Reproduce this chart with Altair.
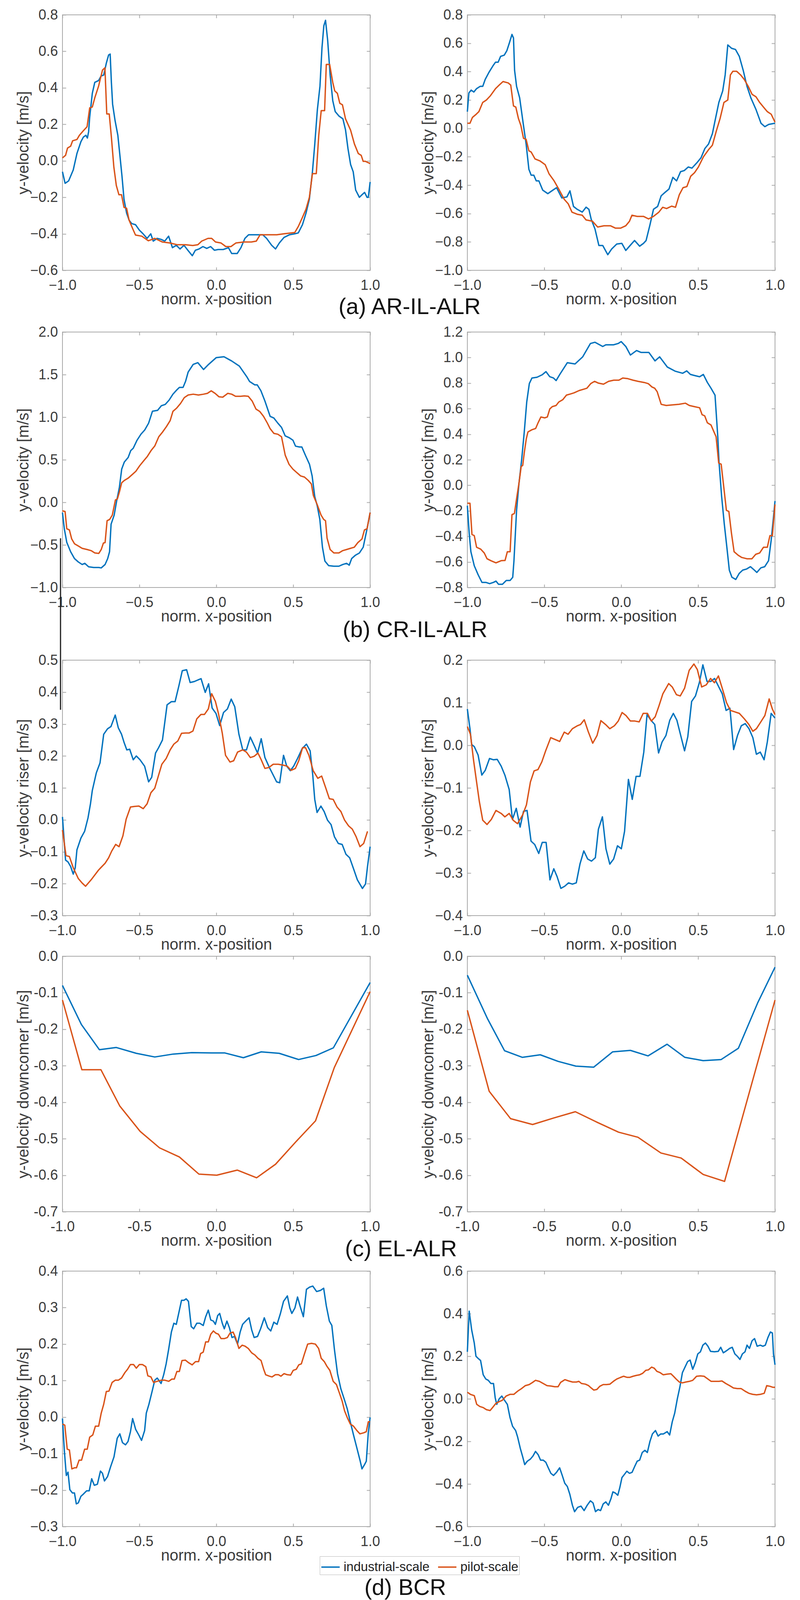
import altair as alt
import pandas as pd

SERIES = ["industrial-scale", "pilot-scale"]
COLORS = ["#0072BD", "#D95319"]
X_TICKS = [-1.0, -0.5, 0.0, 0.5, 1.0]
CAPTIONS = ["(a) AR-IL-ALR", "(b) CR-IL-ALR", "(c) EL-ALR", "(d) BCR"]

# (a) AR-IL-ALR
A_L_IND = [(-1.0, -0.06), (-0.983, -0.123), (-0.96, -0.11), (-0.93, -0.05), (-0.906, 0.04), (-0.88, 0.105),
           (-0.864, 0.13), (-0.848, 0.14), (-0.838, 0.125), (-0.83, 0.16), (-0.823, 0.24), (-0.806, 0.37),
           (-0.79, 0.43), (-0.765, 0.44), (-0.749, 0.465), (-0.732, 0.47), (-0.715, 0.535), (-0.7, 0.58),
           (-0.69, 0.585), (-0.682, 0.43), (-0.674, 0.31), (-0.658, 0.22), (-0.64, 0.14), (-0.625, 0.016),
           (-0.613, -0.085), (-0.6, -0.21), (-0.583, -0.287), (-0.567, -0.325), (-0.55, -0.344), (-0.525, -0.35),
           (-0.5, -0.38), (-0.476, -0.4), (-0.45, -0.425), (-0.426, -0.4), (-0.41, -0.44), (-0.385, -0.425),
           (-0.36, -0.43), (-0.335, -0.44), (-0.31, -0.413), (-0.285, -0.476), (-0.26, -0.463), (-0.236, -0.483),
           (-0.21, -0.463), (-0.185, -0.49), (-0.156, -0.52), (-0.136, -0.49), (-0.112, -0.483), (-0.087, -0.47),
           (-0.062, -0.48), (-0.037, -0.47), (-0.012, -0.49), (0.012, -0.486), (0.045, -0.486), (0.079, -0.476),
           (0.1, -0.508), (0.136, -0.508), (0.16, -0.476), (0.186, -0.425), (0.21, -0.405), (0.26, -0.405),
           (0.302, -0.405), (0.327, -0.425), (0.36, -0.463), (0.385, -0.483), (0.41, -0.45), (0.44, -0.42),
           (0.476, -0.405), (0.51, -0.4), (0.533, -0.395), (0.56, -0.35), (0.583, -0.287), (0.605, -0.21),
           (0.625, -0.06), (0.64, 0.09), (0.657, 0.28), (0.674, 0.41), (0.687, 0.62), (0.699, 0.74), (0.71, 0.77),
           (0.724, 0.66), (0.74, 0.47), (0.757, 0.33), (0.773, 0.27), (0.798, 0.245), (0.823, 0.23), (0.84, 0.17),
           (0.856, 0.067), (0.873, -0.02), (0.89, -0.06), (0.906, -0.16), (0.93, -0.2), (0.947, -0.186),
           (0.964, -0.173), (0.98, -0.2), (0.988, -0.2), (1.0, -0.116)]
A_L_PIL = [(-1.0, 0.016), (-0.98, 0.03), (-0.967, 0.07), (-0.947, 0.08), (-0.934, 0.11), (-0.906, 0.117),
           (-0.89, 0.14), (-0.864, 0.165), (-0.84, 0.187), (-0.823, 0.29), (-0.806, 0.295), (-0.79, 0.345),
           (-0.765, 0.41), (-0.74, 0.497), (-0.724, 0.51), (-0.712, 0.257), (-0.696, 0.257), (-0.682, 0.13),
           (-0.666, -0.034), (-0.65, -0.135), (-0.633, -0.186), (-0.616, -0.186), (-0.6, -0.255), (-0.583, -0.26),
           (-0.567, -0.325), (-0.542, -0.375), (-0.525, -0.407), (-0.484, -0.413), (-0.442, -0.438), (-0.4, -0.425),
           (-0.35, -0.445), (-0.302, -0.45), (-0.253, -0.46), (-0.2, -0.46), (-0.153, -0.464), (-0.12, -0.46),
           (-0.095, -0.44), (-0.054, -0.425), (-0.03, -0.425), (-0.005, -0.445), (0.03, -0.45), (0.062, -0.47),
           (0.095, -0.47), (0.128, -0.45), (0.178, -0.445), (0.228, -0.445), (0.26, -0.44), (0.285, -0.405),
           (0.327, -0.405), (0.393, -0.405), (0.44, -0.4), (0.51, -0.393), (0.533, -0.36), (0.56, -0.31),
           (0.583, -0.265), (0.605, -0.2), (0.625, -0.07), (0.65, -0.07), (0.666, 0.14), (0.682, 0.275),
           (0.704, 0.275), (0.715, 0.528), (0.737, 0.528), (0.757, 0.43), (0.77, 0.383), (0.787, 0.37),
           (0.803, 0.315), (0.82, 0.307), (0.84, 0.23), (0.873, 0.168), (0.898, 0.092), (0.923, 0.04),
           (0.942, 0.03), (0.955, -0.003), (0.97, -0.003), (1.0, -0.015)]
A_R_IND = [(-1.0, 0.118), (-0.99, 0.25), (-0.975, 0.27), (-0.958, 0.256), (-0.94, 0.28), (-0.917, 0.296),
           (-0.9, 0.296), (-0.884, 0.345), (-0.86, 0.394), (-0.834, 0.44), (-0.817, 0.466), (-0.8, 0.466),
           (-0.784, 0.507), (-0.76, 0.516), (-0.743, 0.548), (-0.726, 0.605), (-0.71, 0.662), (-0.7, 0.637),
           (-0.693, 0.41), (-0.68, 0.296), (-0.66, 0.215), (-0.635, 0.02), (-0.618, -0.11), (-0.6, -0.288),
           (-0.585, -0.33), (-0.568, -0.33), (-0.552, -0.37), (-0.535, -0.37), (-0.51, -0.435), (-0.477, -0.46),
           (-0.444, -0.435), (-0.42, -0.418), (-0.386, -0.49), (-0.353, -0.483), (-0.333, -0.44), (-0.31, -0.55),
           (-0.286, -0.57), (-0.253, -0.59), (-0.228, -0.555), (-0.21, -0.57), (-0.195, -0.64), (-0.17, -0.71),
           (-0.145, -0.825), (-0.12, -0.825), (-0.087, -0.89), (-0.062, -0.85), (-0.029, -0.815), (0.004, -0.81),
           (0.03, -0.86), (0.054, -0.83), (0.087, -0.79), (0.12, -0.83), (0.145, -0.81), (0.162, -0.79),
           (0.187, -0.68), (0.21, -0.57), (0.237, -0.55), (0.26, -0.475), (0.286, -0.45), (0.311, -0.427),
           (0.336, -0.345), (0.36, -0.37), (0.386, -0.305), (0.41, -0.297), (0.436, -0.272), (0.46, -0.28),
           (0.494, -0.24), (0.519, -0.207), (0.544, -0.142), (0.568, -0.11), (0.593, -0.037), (0.61, 0.053),
           (0.635, 0.183), (0.66, 0.264), (0.676, 0.377), (0.693, 0.588), (0.718, 0.564), (0.743, 0.556),
           (0.768, 0.507), (0.793, 0.41), (0.818, 0.296), (0.843, 0.215), (0.876, 0.134), (0.909, 0.036),
           (0.934, 0.012), (0.959, 0.028), (1.0, 0.036)]
A_R_PIL = [(-1.0, 0.036), (-0.983, 0.036), (-0.967, 0.077), (-0.942, 0.1), (-0.925, 0.118), (-0.9, 0.183),
           (-0.876, 0.2), (-0.85, 0.23), (-0.817, 0.28), (-0.793, 0.305), (-0.768, 0.33), (-0.734, 0.32),
           (-0.718, 0.305), (-0.7, 0.158), (-0.685, 0.15), (-0.668, 0.07), (-0.652, 0.02), (-0.635, -0.07),
           (-0.618, -0.077), (-0.6, -0.158), (-0.585, -0.167), (-0.56, -0.215), (-0.527, -0.23), (-0.494, -0.256),
           (-0.469, -0.32), (-0.436, -0.37), (-0.402, -0.435), (-0.37, -0.5), (-0.344, -0.532), (-0.32, -0.59),
           (-0.286, -0.605), (-0.253, -0.612), (-0.228, -0.645), (-0.187, -0.654), (-0.153, -0.695),
           (-0.112, -0.686), (-0.07, -0.686), (-0.037, -0.703), (-0.004, -0.703), (0.03, -0.686), (0.054, -0.654),
           (0.07, -0.612), (0.104, -0.62), (0.145, -0.62), (0.178, -0.638), (0.21, -0.62), (0.245, -0.59),
           (0.27, -0.556), (0.295, -0.565), (0.328, -0.548), (0.353, -0.556), (0.378, -0.467), (0.402, -0.418),
           (0.427, -0.41), (0.452, -0.337), (0.477, -0.312), (0.502, -0.272), (0.535, -0.2), (0.568, -0.15),
           (0.593, -0.118), (0.618, -0.02), (0.643, 0.07), (0.668, 0.183), (0.693, 0.2), (0.71, 0.377),
           (0.726, 0.402), (0.751, 0.402), (0.776, 0.377), (0.8, 0.345), (0.826, 0.296), (0.851, 0.24),
           (0.876, 0.223), (0.9, 0.183), (0.925, 0.15), (0.95, 0.118), (0.975, 0.1), (1.0, 0.044)]

# (b) CR-IL-ALR
B_L_IND = [(-1.0, -0.12), (-0.988, -0.31), (-0.972, -0.47), (-0.947, -0.58), (-0.922, -0.66), (-0.897, -0.7),
           (-0.872, -0.73), (-0.855, -0.716), (-0.83, -0.757), (-0.797, -0.765), (-0.764, -0.765), (-0.748, -0.77),
           (-0.723, -0.73), (-0.706, -0.66), (-0.694, -0.58), (-0.684, -0.257), (-0.664, -0.15), (-0.648, 0.014),
           (-0.63, 0.176), (-0.615, 0.39), (-0.598, 0.473), (-0.573, 0.527), (-0.556, 0.608), (-0.54, 0.635),
           (-0.515, 0.73), (-0.49, 0.8), (-0.465, 0.85), (-0.44, 0.93), (-0.415, 1.07), (-0.382, 1.08),
           (-0.357, 1.135), (-0.332, 1.15), (-0.307, 1.2), (-0.282, 1.27), (-0.257, 1.32), (-0.24, 1.35),
           (-0.216, 1.35), (-0.2, 1.42), (-0.183, 1.53), (-0.15, 1.62), (-0.12, 1.64), (-0.083, 1.56),
           (-0.05, 1.62), (0.0, 1.7), (0.05, 1.71), (0.1, 1.66), (0.15, 1.6), (0.2, 1.47), (0.216, 1.42),
           (0.25, 1.38), (0.266, 1.38), (0.29, 1.31), (0.316, 1.19), (0.35, 1.01), (0.374, 0.99), (0.4, 0.93),
           (0.424, 0.88), (0.448, 0.78), (0.473, 0.76), (0.498, 0.73), (0.515, 0.66), (0.54, 0.65), (0.556, 0.65),
           (0.58, 0.55), (0.606, 0.446), (0.623, 0.31), (0.64, 0.068), (0.656, -0.04), (0.673, -0.2),
           (0.69, -0.527), (0.706, -0.69), (0.73, -0.743), (0.764, -0.75), (0.797, -0.75), (0.822, -0.73),
           (0.847, -0.716), (0.864, -0.738), (0.88, -0.66), (0.905, -0.62), (0.93, -0.595), (0.955, -0.527),
           (0.98, -0.31), (1.0, -0.12)]
B_L_PIL = [(-1.0, -0.1), (-0.983, -0.108), (-0.972, -0.31), (-0.955, -0.324), (-0.94, -0.43), (-0.922, -0.486),
           (-0.897, -0.513), (-0.872, -0.54), (-0.84, -0.554), (-0.814, -0.567), (-0.79, -0.594), (-0.764, -0.6),
           (-0.748, -0.554), (-0.734, -0.478), (-0.723, -0.473), (-0.71, -0.216), (-0.693, -0.2), (-0.676, -0.15),
           (-0.656, 0.027), (-0.643, 0.04), (-0.63, 0.12), (-0.615, 0.23), (-0.598, 0.257), (-0.573, 0.284),
           (-0.548, 0.324), (-0.523, 0.365), (-0.498, 0.43), (-0.473, 0.486), (-0.448, 0.54), (-0.424, 0.608),
           (-0.4, 0.662), (-0.374, 0.77), (-0.35, 0.824), (-0.324, 0.89), (-0.3, 0.96), (-0.282, 1.068),
           (-0.257, 1.108), (-0.233, 1.16), (-0.208, 1.23), (-0.183, 1.26), (-0.15, 1.27), (-0.116, 1.26),
           (-0.083, 1.27), (-0.058, 1.28), (-0.033, 1.31), (-0.008, 1.28), (0.017, 1.24), (0.042, 1.235),
           (0.075, 1.28), (0.1, 1.27), (0.125, 1.245), (0.158, 1.245), (0.183, 1.25), (0.208, 1.245),
           (0.233, 1.19), (0.258, 1.095), (0.282, 1.068), (0.307, 1.01), (0.332, 0.93), (0.35, 0.865),
           (0.374, 0.81), (0.4, 0.8), (0.424, 0.77), (0.448, 0.554), (0.473, 0.446), (0.498, 0.39), (0.523, 0.35),
           (0.548, 0.31), (0.573, 0.297), (0.598, 0.257), (0.618, 0.216), (0.631, 0.08), (0.656, -0.027),
           (0.681, -0.15), (0.698, -0.2), (0.71, -0.216), (0.72, -0.42), (0.74, -0.554), (0.764, -0.594),
           (0.797, -0.594), (0.822, -0.567), (0.847, -0.554), (0.872, -0.54), (0.897, -0.527), (0.92, -0.473),
           (0.947, -0.43), (0.963, -0.324), (0.98, -0.31), (1.0, -0.12)]
B_R_IND = [(-1.0, -0.16), (-0.988, -0.376), (-0.977, -0.52), (-0.955, -0.63), (-0.93, -0.7), (-0.905, -0.76),
           (-0.88, -0.76), (-0.855, -0.77), (-0.83, -0.76), (-0.814, -0.75), (-0.797, -0.775), (-0.772, -0.775),
           (-0.747, -0.745), (-0.722, -0.745), (-0.705, -0.72), (-0.697, -0.59), (-0.68, -0.196), (-0.664, 0.02),
           (-0.647, 0.2), (-0.63, 0.418), (-0.614, 0.652), (-0.597, 0.797), (-0.58, 0.84), (-0.547, 0.846),
           (-0.514, 0.865), (-0.489, 0.89), (-0.464, 0.85), (-0.44, 0.84), (-0.423, 0.82), (-0.398, 0.87),
           (-0.35, 0.96), (-0.3, 0.95), (-0.25, 1.006), (-0.2, 1.11), (-0.17, 1.12), (-0.12, 1.087), (-0.1, 1.1),
           (-0.05, 1.1), (-0.02, 1.11), (0.0, 1.125), (0.03, 1.087), (0.06, 1.02), (0.1, 1.055), (0.13, 1.04),
           (0.18, 1.04), (0.22, 0.974), (0.25, 1.006), (0.3, 0.926), (0.35, 0.894), (0.4, 0.877), (0.426, 0.896),
           (0.45, 0.868), (0.476, 0.86), (0.51, 0.85), (0.534, 0.868), (0.56, 0.806), (0.584, 0.76),
           (0.61, 0.706), (0.628, 0.38), (0.636, 0.183), (0.653, -0.087), (0.67, -0.3), (0.687, -0.485),
           (0.703, -0.664), (0.72, -0.72), (0.745, -0.737), (0.767, -0.69), (0.79, -0.664), (0.816, -0.655),
           (0.84, -0.637), (0.866, -0.664), (0.882, -0.682), (0.908, -0.646), (0.933, -0.637), (0.958, -0.59),
           (0.975, -0.43), (0.99, -0.25), (1.0, -0.123)]
B_R_PIL = [(-1.0, -0.14), (-0.983, -0.14), (-0.97, -0.385), (-0.955, -0.394), (-0.94, -0.485), (-0.913, -0.5),
           (-0.89, -0.53), (-0.872, -0.575), (-0.847, -0.59), (-0.814, -0.607), (-0.78, -0.59), (-0.755, -0.588),
           (-0.74, -0.52), (-0.722, -0.52), (-0.71, -0.23), (-0.694, -0.22), (-0.68, -0.105), (-0.664, 0.02),
           (-0.65, 0.147), (-0.64, 0.156), (-0.63, 0.255), (-0.617, 0.363), (-0.606, 0.418), (-0.58, 0.435),
           (-0.556, 0.445), (-0.54, 0.49), (-0.522, 0.535), (-0.497, 0.528), (-0.48, 0.535), (-0.464, 0.598),
           (-0.448, 0.616), (-0.423, 0.625), (-0.406, 0.652), (-0.38, 0.67), (-0.356, 0.706), (-0.33, 0.715),
           (-0.306, 0.724), (-0.273, 0.742), (-0.248, 0.751), (-0.223, 0.76), (-0.198, 0.796), (-0.173, 0.814),
           (-0.148, 0.8), (-0.115, 0.792), (-0.082, 0.814), (-0.048, 0.823), (-0.015, 0.823), (0.01, 0.84),
           (0.043, 0.835), (0.077, 0.823), (0.11, 0.814), (0.15, 0.805), (0.176, 0.796), (0.2, 0.77),
           (0.218, 0.76), (0.234, 0.733), (0.26, 0.634), (0.293, 0.625), (0.334, 0.63), (0.376, 0.634),
           (0.418, 0.643), (0.443, 0.625), (0.476, 0.616), (0.51, 0.607), (0.526, 0.553), (0.543, 0.544),
           (0.56, 0.49), (0.584, 0.472), (0.6, 0.427), (0.617, 0.38), (0.634, 0.174), (0.65, 0.165),
           (0.667, -0.015), (0.684, -0.196), (0.7, -0.205), (0.717, -0.376), (0.734, -0.52), (0.76, -0.547),
           (0.784, -0.565), (0.817, -0.575), (0.85, -0.575), (0.875, -0.54), (0.9, -0.53), (0.925, -0.485),
           (0.95, -0.485), (0.967, -0.394), (0.983, -0.394), (1.0, -0.15)]

# riser row
C_L_IND = [(-1.0, 0.009), (-0.98, -0.126), (-0.964, -0.132), (-0.947, -0.146), (-0.93, -0.17), (-0.917, -0.15),
           (-0.906, -0.094), (-0.88, -0.057), (-0.856, -0.036), (-0.834, 0.006), (-0.818, 0.05), (-0.806, 0.092),
           (-0.78, 0.147), (-0.756, 0.178), (-0.732, 0.268), (-0.707, 0.285), (-0.685, 0.292), (-0.657, 0.328),
           (-0.637, 0.288), (-0.616, 0.268), (-0.6, 0.243), (-0.582, 0.219), (-0.563, 0.221), (-0.54, 0.188),
           (-0.52, 0.2), (-0.496, 0.188), (-0.466, 0.168), (-0.44, 0.119), (-0.42, 0.133), (-0.395, 0.209),
           (-0.375, 0.226), (-0.35, 0.25), (-0.32, 0.36), (-0.292, 0.37), (-0.268, 0.37), (-0.243, 0.42),
           (-0.221, 0.467), (-0.193, 0.47), (-0.17, 0.43), (-0.143, 0.433), (-0.11, 0.44), (-0.099, 0.442),
           (-0.072, 0.399), (-0.05, 0.426), (-0.027, 0.35), (-0.002, 0.333), (0.022, 0.295), (0.047, 0.336),
           (0.072, 0.347), (0.097, 0.378), (0.12, 0.354), (0.147, 0.268), (0.172, 0.219), (0.196, 0.219),
           (0.221, 0.259), (0.246, 0.233), (0.268, 0.209), (0.292, 0.254), (0.316, 0.195), (0.345, 0.164),
           (0.37, 0.14), (0.392, 0.119), (0.412, 0.116), (0.437, 0.202), (0.458, 0.168), (0.481, 0.154),
           (0.503, 0.168), (0.528, 0.192), (0.558, 0.223), (0.586, 0.237), (0.61, 0.216), (0.627, 0.14),
           (0.64, 0.064), (0.655, 0.023), (0.68, 0.043), (0.701, 0.026), (0.723, -0.001), (0.746, -0.015),
           (0.768, -0.053), (0.793, -0.074), (0.818, -0.077), (0.843, -0.108), (0.867, -0.119), (0.892, -0.153),
           (0.917, -0.188), (0.95, -0.215), (0.97, -0.201), (0.983, -0.146), (1.0, -0.084)]
C_L_PIL = [(-1.0, -0.032), (-0.977, -0.112), (-0.955, -0.115), (-0.93, -0.15), (-0.897, -0.184), (-0.872, -0.198),
           (-0.85, -0.208), (-0.814, -0.188), (-0.765, -0.157), (-0.723, -0.136), (-0.7, -0.119), (-0.68, -0.098),
           (-0.654, -0.077), (-0.632, -0.084), (-0.607, -0.05), (-0.586, 0.002), (-0.558, 0.04), (-0.533, 0.042),
           (-0.503, 0.043), (-0.475, 0.035), (-0.45, 0.05), (-0.425, 0.085), (-0.4, 0.099), (-0.375, 0.14),
           (-0.354, 0.174), (-0.326, 0.192), (-0.3, 0.219), (-0.276, 0.237), (-0.25, 0.247), (-0.226, 0.271),
           (-0.2, 0.272), (-0.176, 0.272), (-0.152, 0.278), (-0.127, 0.316), (-0.1, 0.33), (-0.077, 0.33),
           (-0.052, 0.347), (-0.03, 0.395), (-0.006, 0.371), (0.014, 0.333), (0.039, 0.271), (0.06, 0.202),
           (0.089, 0.181), (0.113, 0.185), (0.138, 0.212), (0.172, 0.219), (0.196, 0.212), (0.221, 0.195),
           (0.246, 0.199), (0.271, 0.209), (0.292, 0.188), (0.316, 0.161), (0.342, 0.164), (0.37, 0.174),
           (0.403, 0.174), (0.437, 0.171), (0.461, 0.168), (0.486, 0.155), (0.514, 0.161), (0.536, 0.185),
           (0.561, 0.226), (0.58, 0.226), (0.602, 0.202), (0.63, 0.154), (0.66, 0.13), (0.685, 0.137),
           (0.71, 0.102), (0.735, 0.066), (0.76, 0.064), (0.785, 0.04), (0.81, 0.026), (0.834, -0.001),
           (0.86, -0.019), (0.884, -0.029), (0.909, -0.053), (0.934, -0.084), (0.958, -0.074), (0.983, -0.036)]
C_R_IND = [(-1.0, 0.085), (-0.983, 0.039), (-0.972, 0.002), (-0.955, -0.003), (-0.93, -0.023), (-0.906, -0.07),
           (-0.884, -0.059), (-0.856, -0.031), (-0.83, -0.034), (-0.806, -0.033), (-0.78, -0.049), (-0.756, -0.07),
           (-0.728, -0.104), (-0.707, -0.174), (-0.682, -0.148), (-0.657, -0.192), (-0.635, -0.155),
           (-0.612, -0.153), (-0.586, -0.225), (-0.562, -0.233), (-0.536, -0.254), (-0.513, -0.228),
           (-0.488, -0.228), (-0.463, -0.316), (-0.438, -0.29), (-0.417, -0.308), (-0.392, -0.336),
           (-0.367, -0.331), (-0.342, -0.323), (-0.317, -0.326), (-0.292, -0.323), (-0.268, -0.279),
           (-0.243, -0.248), (-0.218, -0.267), (-0.193, -0.272), (-0.168, -0.264), (-0.148, -0.197),
           (-0.122, -0.168), (-0.099, -0.243), (-0.074, -0.279), (-0.049, -0.267), (-0.024, -0.236),
           (0.001, -0.243), (0.022, -0.202), (0.047, -0.08), (0.072, -0.127), (0.097, -0.073), (0.122, -0.073),
           (0.147, -0.016), (0.168, 0.072), (0.193, 0.059), (0.218, 0.049), (0.243, -0.018), (0.266, 0.008),
           (0.291, 0.023), (0.316, 0.059), (0.339, 0.075), (0.362, 0.059), (0.387, 0.023), (0.412, -0.013),
           (0.433, 0.02), (0.458, 0.103), (0.483, 0.116), (0.508, 0.147), (0.531, 0.189), (0.558, 0.15),
           (0.582, 0.15), (0.607, 0.157), (0.632, 0.139), (0.657, 0.121), (0.682, 0.082), (0.707, 0.087),
           (0.731, -0.01), (0.756, 0.023), (0.781, 0.046), (0.806, 0.051), (0.831, 0.039), (0.856, 0.018),
           (0.879, -0.021), (0.904, -0.016), (0.929, -0.034), (0.95, 0.008), (0.975, 0.075), (1.0, 0.064)]
C_R_PIL = [(-1.0, 0.044), (-0.98, 0.026), (-0.96, -0.034), (-0.94, -0.086), (-0.922, -0.132), (-0.9, -0.176),
           (-0.872, -0.186), (-0.844, -0.174), (-0.814, -0.153), (-0.78, -0.16), (-0.756, -0.168), (-0.728, -0.16),
           (-0.702, -0.176), (-0.674, -0.184), (-0.64, -0.163), (-0.616, -0.14), (-0.59, -0.086), (-0.566, -0.06),
           (-0.541, -0.057), (-0.516, -0.039), (-0.491, -0.013), (-0.458, 0.018), (-0.425, 0.013), (-0.4, 0.009),
           (-0.37, 0.031), (-0.345, 0.026), (-0.317, 0.039), (-0.284, 0.046), (-0.264, 0.049), (-0.24, 0.06),
           (-0.215, 0.033), (-0.185, 0.005), (-0.157, 0.023), (-0.132, 0.058), (-0.102, 0.049), (-0.074, 0.039),
           (-0.044, 0.046), (-0.019, 0.057), (0.006, 0.077), (0.031, 0.07), (0.06, 0.057), (0.089, 0.057),
           (0.117, 0.055), (0.143, 0.075), (0.171, 0.075), (0.196, 0.057), (0.221, 0.067), (0.246, 0.093),
           (0.271, 0.121), (0.309, 0.145), (0.332, 0.137), (0.359, 0.119), (0.384, 0.116), (0.412, 0.134),
           (0.442, 0.176), (0.473, 0.191), (0.495, 0.178), (0.523, 0.137), (0.553, 0.142), (0.581, 0.157),
           (0.606, 0.147), (0.632, 0.163), (0.657, 0.134), (0.685, 0.1), (0.71, 0.082), (0.735, 0.079),
           (0.768, 0.075), (0.801, 0.062), (0.83, 0.049), (0.856, 0.033), (0.879, 0.039), (0.906, 0.054),
           (0.934, 0.07), (0.962, 0.109), (0.983, 0.085), (1.0, 0.072)]

# downcomer row, (c) EL-ALR
D_L_IND = [(-1.0, -0.08), (-0.877, -0.187), (-0.76, -0.256), (-0.65, -0.25), (-0.52, -0.266), (-0.4, -0.276),
           (-0.28, -0.268), (-0.16, -0.264), (-0.03, -0.265), (0.056, -0.265), (0.176, -0.278), (0.292, -0.262),
           (0.409, -0.266), (0.535, -0.283), (0.648, -0.272), (0.761, -0.251), (1.0, -0.072)]
D_L_PIL = [(-1.0, -0.12), (-0.874, -0.311), (-0.75, -0.311), (-0.628, -0.41), (-0.495, -0.48), (-0.369, -0.525),
           (-0.24, -0.55), (-0.113, -0.597), (0.003, -0.6), (0.136, -0.586), (0.262, -0.607), (0.385, -0.57),
           (0.518, -0.508), (0.645, -0.451), (0.767, -0.305), (1.0, -0.097)]
D_R_IND = [(-1.0, -0.052), (-0.868, -0.172), (-0.758, -0.259), (-0.642, -0.277), (-0.526, -0.27), (-0.41, -0.288),
           (-0.295, -0.301), (-0.179, -0.304), (-0.056, -0.262), (0.06, -0.258), (0.175, -0.273), (0.298, -0.241),
           (0.414, -0.277), (0.533, -0.286), (0.65, -0.283), (0.762, -0.252), (0.887, -0.128), (1.0, -0.03)]
D_R_PIL = [(-1.0, -0.148), (-0.858, -0.37), (-0.719, -0.445), (-0.576, -0.461), (-0.437, -0.443), (-0.298, -0.426),
           (-0.156, -0.455), (-0.017, -0.482), (0.109, -0.496), (0.258, -0.539), (0.39, -0.553), (0.533, -0.598),
           (0.672, -0.617), (1.0, -0.12)]

# (d) BCR
E_L_IND = [(-1.0, -0.004), (-0.988, -0.091), (-0.975, -0.16), (-0.964, -0.151), (-0.952, -0.199), (-0.935, -0.208),
           (-0.922, -0.208), (-0.91, -0.238), (-0.897, -0.235), (-0.88, -0.217), (-0.864, -0.211), (-0.843, -0.202),
           (-0.826, -0.202), (-0.81, -0.169), (-0.793, -0.187), (-0.773, -0.184), (-0.753, -0.148), (-0.74, -0.154),
           (-0.727, -0.175), (-0.707, -0.163), (-0.687, -0.136), (-0.665, -0.109), (-0.644, -0.058),
           (-0.627, -0.046), (-0.61, -0.07), (-0.59, -0.076), (-0.574, -0.067), (-0.558, -0.04), (-0.544, -0.004),
           (-0.524, -0.034), (-0.504, -0.049), (-0.486, -0.064), (-0.466, -0.037), (-0.455, 0.011), (-0.438, 0.035),
           (-0.417, 0.071), (-0.4, 0.101), (-0.384, 0.107), (-0.359, 0.092), (-0.342, 0.116), (-0.326, 0.146),
           (-0.31, 0.185), (-0.292, 0.233), (-0.276, 0.257), (-0.26, 0.254), (-0.243, 0.287), (-0.226, 0.32),
           (-0.21, 0.32), (-0.196, 0.324), (-0.181, 0.317), (-0.163, 0.248), (-0.147, 0.242), (-0.127, 0.257),
           (-0.107, 0.257), (-0.085, 0.251), (-0.069, 0.275), (-0.052, 0.293), (-0.036, 0.266), (-0.019, 0.263),
           (-0.006, 0.254), (0.009, 0.278), (0.022, 0.284), (0.039, 0.257), (0.052, 0.242), (0.069, 0.263),
           (0.085, 0.245), (0.102, 0.218), (0.118, 0.221), (0.138, 0.2), (0.155, 0.233), (0.171, 0.254),
           (0.191, 0.263), (0.213, 0.272), (0.23, 0.239), (0.246, 0.218), (0.268, 0.221), (0.288, 0.242),
           (0.312, 0.272), (0.334, 0.245), (0.354, 0.236), (0.374, 0.26), (0.395, 0.254), (0.417, 0.284),
           (0.437, 0.317), (0.462, 0.332), (0.478, 0.299), (0.491, 0.284), (0.511, 0.299), (0.528, 0.329),
           (0.544, 0.305), (0.566, 0.275), (0.586, 0.35), (0.606, 0.356), (0.627, 0.359), (0.652, 0.344),
           (0.677, 0.347), (0.698, 0.353), (0.715, 0.305), (0.735, 0.263), (0.751, 0.251), (0.768, 0.185),
           (0.788, 0.119), (0.81, 0.077), (0.831, 0.05), (0.851, 0.023), (0.871, -0.013), (0.892, -0.049),
           (0.914, -0.085), (0.934, -0.118), (0.947, -0.142), (0.964, -0.13), (0.975, -0.121), (0.988, -0.043),
           (1.0, -0.001)]
E_L_PIL = [(-1.0, -0.019), (-0.985, -0.022), (-0.969, -0.088), (-0.955, -0.09), (-0.939, -0.142), (-0.922, -0.139),
           (-0.909, -0.139), (-0.892, -0.118), (-0.876, -0.118), (-0.856, -0.088), (-0.839, -0.088),
           (-0.823, -0.055), (-0.803, -0.049), (-0.786, -0.025), (-0.765, -0.025), (-0.748, 0.011), (-0.732, 0.035),
           (-0.715, 0.07), (-0.698, 0.071), (-0.677, 0.095), (-0.657, 0.101), (-0.637, 0.101), (-0.616, 0.107),
           (-0.594, 0.122), (-0.577, 0.131), (-0.558, 0.144), (-0.538, 0.144), (-0.52, 0.134), (-0.5, 0.144),
           (-0.48, 0.144), (-0.458, 0.138), (-0.445, 0.113), (-0.425, 0.11), (-0.408, 0.095), (-0.384, 0.098),
           (-0.359, 0.101), (-0.334, 0.101), (-0.309, 0.098), (-0.289, 0.104), (-0.273, 0.104), (-0.256, 0.125),
           (-0.24, 0.125), (-0.223, 0.155), (-0.201, 0.156), (-0.18, 0.149), (-0.157, 0.143), (-0.135, 0.152),
           (-0.115, 0.152), (-0.102, 0.174), (-0.085, 0.178), (-0.069, 0.206), (-0.052, 0.206), (-0.036, 0.227),
           (-0.019, 0.236), (-0.003, 0.23), (0.014, 0.227), (0.031, 0.215), (0.052, 0.215), (0.072, 0.218),
           (0.089, 0.23), (0.109, 0.233), (0.125, 0.218), (0.147, 0.188), (0.168, 0.197), (0.188, 0.194),
           (0.208, 0.188), (0.23, 0.176), (0.251, 0.17), (0.271, 0.161), (0.291, 0.155), (0.308, 0.131),
           (0.321, 0.116), (0.346, 0.112), (0.362, 0.11), (0.384, 0.116), (0.404, 0.116), (0.42, 0.112),
           (0.44, 0.119), (0.462, 0.116), (0.483, 0.115), (0.5, 0.128), (0.52, 0.131), (0.536, 0.143),
           (0.553, 0.146), (0.573, 0.173), (0.594, 0.2), (0.619, 0.202), (0.644, 0.2), (0.665, 0.188),
           (0.682, 0.161), (0.702, 0.152), (0.718, 0.14), (0.738, 0.128), (0.76, 0.098), (0.781, 0.089),
           (0.801, 0.065), (0.818, 0.044), (0.834, 0.017), (0.851, -0.001), (0.871, -0.019), (0.892, -0.025),
           (0.914, -0.037), (0.934, -0.046), (0.959, -0.043), (0.975, -0.04), (0.988, -0.013), (1.0, -0.013)]
E_R_IND = [(-1.0, 0.221), (-0.988, 0.412), (-0.972, 0.324), (-0.955, 0.262), (-0.944, 0.2), (-0.93, 0.19),
           (-0.914, 0.18), (-0.897, 0.113), (-0.88, 0.093), (-0.864, 0.087), (-0.847, 0.072), (-0.83, 0.072),
           (-0.819, 0.005), (-0.809, -0.026), (-0.793, 0.0), (-0.776, 0.013), (-0.76, -0.005), (-0.74, -0.026),
           (-0.723, -0.087), (-0.706, -0.129), (-0.686, -0.149), (-0.673, -0.18), (-0.656, -0.232),
           (-0.64, -0.273), (-0.627, -0.309), (-0.61, -0.293), (-0.59, -0.283), (-0.573, -0.268), (-0.557, -0.247),
           (-0.54, -0.262), (-0.524, -0.288), (-0.507, -0.288), (-0.49, -0.298), (-0.474, -0.324), (-0.457, -0.35),
           (-0.44, -0.36), (-0.42, -0.345), (-0.4, -0.324), (-0.383, -0.36), (-0.367, -0.396), (-0.35, -0.412),
           (-0.334, -0.448), (-0.317, -0.5), (-0.303, -0.53), (-0.283, -0.51), (-0.261, -0.504), (-0.241, -0.525),
           (-0.221, -0.5), (-0.2, -0.479), (-0.183, -0.489), (-0.167, -0.53), (-0.15, -0.52), (-0.134, -0.525),
           (-0.117, -0.494), (-0.1, -0.484), (-0.083, -0.5), (-0.066, -0.468), (-0.054, -0.437), (-0.037, -0.443),
           (-0.022, -0.453), (-0.009, -0.417), (0.005, -0.37), (0.021, -0.355), (0.037, -0.34), (0.054, -0.35),
           (0.071, -0.345), (0.087, -0.319), (0.104, -0.293), (0.12, -0.288), (0.137, -0.252), (0.154, -0.242),
           (0.17, -0.252), (0.187, -0.2), (0.203, -0.165), (0.223, -0.149), (0.24, -0.175), (0.257, -0.165),
           (0.274, -0.165), (0.299, -0.154), (0.315, -0.17), (0.332, -0.108), (0.348, -0.067), (0.365, 0.0),
           (0.382, 0.057), (0.398, 0.123), (0.415, 0.149), (0.432, 0.175), (0.448, 0.182), (0.465, 0.139),
           (0.482, 0.17), (0.498, 0.211), (0.515, 0.221), (0.531, 0.252), (0.548, 0.262), (0.564, 0.247),
           (0.581, 0.223), (0.606, 0.221), (0.631, 0.223), (0.647, 0.242), (0.664, 0.216), (0.685, 0.226),
           (0.705, 0.237), (0.722, 0.242), (0.739, 0.211), (0.755, 0.2), (0.772, 0.185), (0.788, 0.211),
           (0.805, 0.221), (0.818, 0.252), (0.834, 0.237), (0.851, 0.273), (0.867, 0.283), (0.884, 0.247),
           (0.904, 0.252), (0.921, 0.247), (0.937, 0.252), (0.954, 0.288), (0.97, 0.314), (0.983, 0.309),
           (0.99, 0.211), (1.0, 0.16)]
E_R_PIL = [(-1.0, 0.031), (-0.98, 0.021), (-0.955, 0.015), (-0.939, -0.026), (-0.919, -0.036), (-0.897, -0.041),
           (-0.876, -0.051), (-0.852, -0.055), (-0.836, -0.041), (-0.814, -0.021), (-0.793, -0.013),
           (-0.773, -0.007), (-0.748, 0.013), (-0.723, 0.021), (-0.698, 0.021), (-0.673, 0.036), (-0.648, 0.048),
           (-0.623, 0.062), (-0.598, 0.067), (-0.576, 0.077), (-0.557, 0.087), (-0.532, 0.082), (-0.507, 0.072),
           (-0.482, 0.062), (-0.457, 0.06), (-0.432, 0.057), (-0.41, 0.057), (-0.394, 0.077), (-0.366, 0.09),
           (-0.341, 0.084), (-0.316, 0.079), (-0.291, 0.079), (-0.275, 0.082), (-0.258, 0.072), (-0.233, 0.069),
           (-0.212, 0.062), (-0.195, 0.051), (-0.178, 0.041), (-0.158, 0.044), (-0.139, 0.059), (-0.117, 0.067),
           (-0.095, 0.067), (-0.073, 0.069), (-0.051, 0.082), (-0.029, 0.093), (-0.006, 0.1), (0.016, 0.106),
           (0.037, 0.101), (0.057, 0.101), (0.077, 0.106), (0.099, 0.11), (0.12, 0.113), (0.14, 0.12),
           (0.16, 0.134), (0.177, 0.136), (0.198, 0.149), (0.215, 0.144), (0.232, 0.129), (0.253, 0.123),
           (0.273, 0.113), (0.299, 0.116), (0.323, 0.118), (0.34, 0.106), (0.357, 0.093), (0.378, 0.079),
           (0.398, 0.075), (0.42, 0.079), (0.443, 0.082), (0.465, 0.087), (0.49, 0.106), (0.515, 0.108),
           (0.539, 0.106), (0.564, 0.093), (0.585, 0.082), (0.608, 0.082), (0.635, 0.082), (0.655, 0.084),
           (0.68, 0.072), (0.705, 0.062), (0.73, 0.051), (0.755, 0.048), (0.78, 0.048), (0.805, 0.036),
           (0.83, 0.026), (0.855, 0.021), (0.88, 0.019), (0.905, 0.021), (0.93, 0.026), (0.946, 0.062),
           (0.967, 0.059), (0.987, 0.054), (1.0, 0.054)]

# the photographed page is only about 4096 px tall, so the figure's vertical
# layout is squeezed by 4096/5095 to keep every row, the legend and (d) in view
W, H = 788, 654
GAP = 249
FONT = "Liberation Sans"
INK = "#3b3b3b"
FRAME = "#a9a9a9"

legend = alt.Legend(
    orient="none", legendX=688, legendY=3946, direction="horizontal",
    strokeColor="#b8b8b8", fillColor="white", padding=2, cornerRadius=0,
    labelFont=FONT, labelFontSize=33, labelColor="#222222", labelOffset=8, labelLimit=500,
    symbolType="stroke", symbolSize=2209, symbolStrokeWidth=3.5, columnPadding=14,
)


def panel(ind, pil, y_dom, y_step, y_title, hyphen=False):
    rows = [(x, y, SERIES[0]) for x, y in ind] + [(x, y, SERIES[1]) for x, y in pil]
    df = pd.DataFrame(rows, columns=["x", "y", "series"])
    n = int(round((y_dom[1] - y_dom[0]) / y_step))
    y_ticks = [round(y_dom[0] + i * y_step, 2) for i in range(n + 1)]
    label_kw = {"labelExpr": "replace(datum.label, '\u2212', '-')"} if hyphen else {}
    x_axis = alt.Axis(
        values=X_TICKS, format=".1f", labelFlush=False, domain=False, ticks=False, tickSize=0,
        labelPadding=21, labelFont=FONT, labelFontSize=36, labelColor=INK,
        grid=True, gridColor=FRAME, gridWidth=2, gridDash=[8, H - 16, 8, H],
        title="norm. x-position", titleFont=FONT, titleFontSize=40, titleFontWeight="normal",
        titleColor=INK, titleX=W / 2, titleY=74, titleBaseline="middle", **label_kw,
    )
    y_axis = alt.Axis(
        values=y_ticks, format=".1f", domain=False, ticks=False, tickSize=0,
        labelPadding=12, labelFont=FONT, labelFontSize=36, labelColor=INK,
        grid=True, gridColor=FRAME, gridWidth=2, gridDash=[9, W - 18, 9, W],
        title=y_title, titleFont=FONT, titleFontSize=40, titleFontWeight="normal",
        titleColor=INK, titleX=-100, titleY=H / 2, titleBaseline="middle", **label_kw,
    )
    return (
        alt.Chart(df)
        .mark_line(strokeWidth=3.5, strokeJoin="round")
        .encode(
            x=alt.X("x:Q", scale=alt.Scale(domain=[-1, 1], nice=False, zero=False), axis=x_axis),
            y=alt.Y("y:Q", scale=alt.Scale(domain=y_dom, nice=False, zero=False), axis=y_axis),
            color=alt.Color("series:N", scale=alt.Scale(domain=SERIES, range=COLORS),
                            legend=legend, title=None),
        )
        .properties(width=W, height=H, view=alt.ViewBackground(stroke=FRAME, strokeWidth=2))
    )


def spacer(w, h, text="", x=0, y=0):
    df = pd.DataFrame({"caption": [text]})
    return (
        alt.Chart(df)
        .mark_text(font=FONT, fontSize=58, color="#111111", align="center", baseline="middle")
        .encode(text="caption:N", x=alt.value(x), y=alt.value(y))
        .properties(width=w, height=h)
    )


def plot_row(left, right, offset):
    # four cells per grid row: left offset, left panel, gap, right panel
    return [spacer(offset, H), left, spacer(GAP, H), right]


def gap_row(h, first):
    return [first, spacer(1, h), spacer(1, h), spacer(1, h)]


cells = []
cells += plot_row(panel(A_L_IND, A_L_PIL, [-0.6, 0.8], 0.2, "y-velocity [m/s]"),
                  panel(A_R_IND, A_R_PIL, [-1.0, 0.8], 0.2, "y-velocity [m/s]"), 29)
cells += gap_row(158, spacer(1, 158, CAPTIONS[0], 918, 95))
cells += plot_row(panel(B_L_IND, B_L_PIL, [-1.0, 2.0], 0.5, "y-velocity [m/s]"),
                  panel(B_R_IND, B_R_PIL, [-0.8, 1.2], 0.2, "y-velocity [m/s]"), 29)

# stray dark line that crosses from (b) into the riser row in the source figure
stray = (
    alt.Chart(pd.DataFrame({"caption": [CAPTIONS[1]]}))
    .mark_rule(color="#1e1e1e", strokeWidth=3)
    .encode(x=alt.value(24), y=alt.value(-126), y2=alt.value(313))
)
cells += gap_row(186, alt.layer(spacer(1, 186, CAPTIONS[1], 932, 110), stray).properties(width=1, height=186))
cells += plot_row(panel(C_L_IND, C_L_PIL, [-0.3, 0.5], 0.1, "y-velocity riser [m/s]"),
                  panel(C_R_IND, C_R_PIL, [-0.4, 0.2], 0.1, "y-velocity riser [m/s]"), 23)
cells += gap_row(104, spacer(1, 104))
cells += plot_row(panel(D_L_IND, D_L_PIL, [-0.7, 0.0], 0.1, "y-velocity downcomer [m/s]", hyphen=True),
                  panel(D_R_IND, D_R_PIL, [-0.7, 0.0], 0.1, "y-velocity downcomer [m/s]", hyphen=True), 8)
cells += gap_row(152, spacer(1, 152, CAPTIONS[2], 896, 97))
cells += plot_row(panel(E_L_IND, E_L_PIL, [-0.3, 0.4], 0.1, "y-velocity [m/s]"),
                  panel(E_R_IND, E_R_PIL, [-0.6, 0.6], 0.2, "y-velocity [m/s]"), 0)
cells += gap_row(180, spacer(1, 180, CAPTIONS[3], 907, 158))

chart = alt.concat(
    *cells,
    columns=4,
    spacing=0,
    bounds="flush",
    align={"row": "each", "column": "none"},
).properties(
    padding={"left": 31, "top": 0, "right": 0, "bottom": 2},
    background="white",
).configure_view(stroke="transparent")

chart.save("out.html", embed_options={"renderer": "svg", "actions": False})
